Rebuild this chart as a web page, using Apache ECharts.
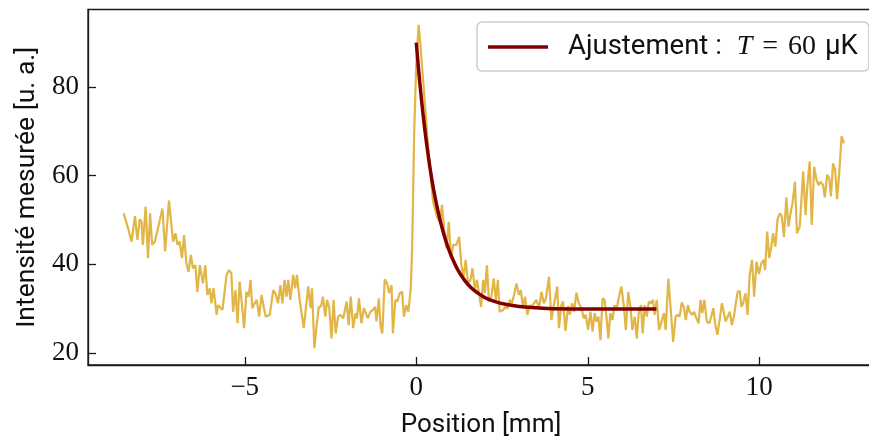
<!DOCTYPE html>
<html>
<head>
<meta charset="utf-8">
<script src="https://cdn.jsdelivr.net/npm/echarts@6/dist/echarts.min.js"></script>
<style>
html,body{margin:0;padding:0;background:#fff;}
#chart{width:869px;height:441px;}
</style>
</head>
<body>
<div id="chart"></div>
<script>
// Measured profile: position [mm]
const positions = [
-8.53,-8.40,-8.30,-8.25,-8.20,-8.13,-8.06,-8.01,-7.97,-7.89,-7.82,-7.76,-7.70,-7.62,-7.57,-7.40,-7.32,-7.21,-7.09,-7.02,
-6.96,-6.90,-6.83,-6.77,-6.70,-6.64,-6.57,-6.51,-6.44,-6.38,-6.31,-6.22,-6.15,-6.09,-6.02,-5.97,-5.91,-5.82,-5.78,-5.65,
-5.53,-5.46,-5.39,-5.34,-5.27,-5.21,-5.15,-5.09,-5.02,-4.95,-4.89,-4.83,-4.78,-4.71,-4.65,-4.58,-4.51,-4.44,-4.39,-4.27,
-4.17,-4.09,-4.03,-3.96,-3.90,-3.84,-3.78,-3.73,-3.67,-3.59,-3.53,-3.48,-3.40,-3.28,-3.15,-3.08,-3.04,-2.97,-2.91,-2.84,
-2.78,-2.72,-2.65,-2.60,-2.54,-2.47,-2.41,-2.35,-2.28,-2.21,-2.13,-2.03,-1.97,-1.91,-1.84,-1.77,-1.73,-1.67,-1.60,-1.53,
-1.47,-1.41,-1.34,-1.26,-1.20,-1.16,-1.09,-1.04,-0.99,-0.92,-0.85,-0.79,-0.72,-0.68,-0.61,-0.55,-0.48,-0.41,-0.36,-0.29,
-0.23,-0.16,-0.12,-0.06,0.00,0.07,0.13,0.20,0.27,0.34,0.41,0.49,0.54,0.62,0.69,0.75,0.81,0.88,0.95,1.01,
1.08,1.17,1.25,1.32,1.38,1.44,1.51,1.58,1.64,1.71,1.77,1.83,1.89,1.95,2.00,2.06,2.12,2.19,2.26,2.32,
2.38,2.43,2.53,2.60,2.66,2.73,2.79,2.85,2.92,2.99,3.05,3.11,3.17,3.24,3.31,3.38,3.43,3.50,3.58,3.65,
3.72,3.78,3.87,3.94,4.02,4.11,4.16,4.23,4.28,4.35,4.43,4.48,4.54,4.60,4.67,4.74,4.82,4.88,4.94,5.01,
5.08,5.14,5.20,5.25,5.31,5.37,5.43,5.49,5.55,5.60,5.66,5.72,5.78,5.84,5.89,5.98,6.05,6.11,6.18,6.25,
6.30,6.37,6.43,6.49,6.55,6.60,6.66,6.72,6.78,6.84,6.90,6.95,7.01,7.08,7.15,7.22,7.27,7.35,7.42,7.49,
7.56,7.62,7.68,7.74,7.80,7.86,7.92,7.97,8.04,8.10,8.17,8.23,8.29,8.34,8.40,8.47,8.54,8.60,8.66,8.72,
8.78,8.85,8.91,8.97,9.02,9.08,9.14,9.20,9.26,9.31,9.37,9.43,9.48,9.53,9.60,9.66,9.72,9.79,9.85,9.92,
9.99,10.06,10.13,10.17,10.23,10.29,10.36,10.40,10.47,10.53,10.60,10.66,10.72,10.79,10.85,10.92,10.97,11.04,11.10,11.18,
11.23,11.28,11.35,11.40,11.47,11.53,11.60,11.67,11.73,11.79,11.86,11.91,11.98,12.04,12.09,12.15,12.21,12.27,12.33,12.40,
12.47
];
// Measured intensity [u. a.]
const intensity = [
51.5,48.1,45.1,45.1,50.9,45.5,50.2,49.6,44.4,53.0,41.4,51.5,44.4,45.1,45.1,52.6,42.9,54.4,45.1,47.0,
44.4,45.1,41.4,46.6,40.2,38.3,42.1,39.1,39.8,33.8,39.8,35.7,39.8,33.1,34.6,31.2,34.6,28.6,30.8,29.7,
37.6,38.7,38.0,29.3,34.2,26.7,36.1,31.6,25.6,33.8,32.7,36.5,30.1,31.2,32.0,28.2,33.1,30.1,28.2,28.6,
34.2,33.1,31.2,35.3,31.2,36.5,32.7,36.5,32.0,37.6,34.6,37.6,32.0,25.6,35.0,30.1,34.6,21.1,25.9,30.4,
30.4,32.7,28.2,32.0,30.4,23.3,32.0,24.4,28.2,28.6,27.8,31.6,26.3,32.7,25.6,29.0,27.8,32.3,26.7,30.1,
29.0,27.8,29.3,29.7,30.4,27.1,32.3,25.9,24.4,36.6,35.7,33.5,35.3,24.4,32.0,31.6,33.5,33.8,28.2,30.8,
29.3,34.6,43.6,69.9,85.0,94.0,88.7,81.5,74.5,67.0,61.0,54.1,53.8,50.4,49.6,53.4,48.1,43.6,49.6,41.4,
44.4,44.4,46.2,39.5,37.2,41.0,35.7,36.5,39.1,34.2,36.5,33.5,30.4,36.5,33.5,39.8,31.6,32.7,36.8,32.0,
36.5,29.3,29.7,30.4,30.0,32.0,31.2,33.1,35.7,33.1,34.2,30.1,32.7,28.6,30.8,30.4,31.2,32.0,30.1,33.8,
31.2,32.3,37.2,27.4,31.2,35.0,25.6,30.8,31.6,25.0,30.6,28.6,31.2,29.3,33.6,31.2,30.1,27.8,28.6,25.2,
29.3,24.8,29.0,27.1,28.2,22.9,32.3,32.0,27.8,23.3,29.0,27.4,30.8,29.7,32.0,35.0,30.8,25.2,33.8,30.1,
25.2,28.2,23.3,29.3,30.8,24.4,30.8,28.2,31.6,31.2,32.0,28.6,32.0,25.2,27.1,29.0,25.2,36.8,29.7,22.5,
28.2,28.6,28.2,31.4,30.4,27.4,30.8,29.3,28.6,29.3,27.8,26.7,32.0,29.0,32.0,27.1,26.7,28.2,30.1,26.3,
24.1,27.8,31.2,29.0,27.1,28.2,29.3,26.3,28.2,30.8,33.8,34.0,30.4,31.2,33.5,28.6,37.5,41.0,32.7,40.6,
37.8,40.2,41.0,38.7,47.4,41.4,44.4,47.0,44.0,50.0,51.5,50.8,46.2,55.1,48.5,51.9,53.8,58.6,47.0,48.5,
48.9,60.9,51.1,57.5,63.2,48.9,62.0,59.0,57.9,58.6,57.9,55.1,60.2,59.4,55.3,62.8,61.3,54.7,60.5,68.9,
67.3
];
// Fit curve
const fitX = [0.0,0.1,0.2,0.3,0.4,0.5,0.6,0.7,0.8,0.9,1.0,1.2,1.4,1.6,1.8,2.0,2.3,2.6,3.0,3.5,4.0,5.0,6.0,7.0];
const fitY = [90.0,81.2,73.7,67.3,61.8,57.1,53.2,49.8,46.9,44.4,42.3,38.9,36.5,34.7,33.5,32.5,31.6,31.0,30.5,30.2,30.0,29.9,29.9,29.9];
const xTicks = [-5, 0, 5, 10];
const yTicks = [20, 40, 60, 80];
const legendLabel = 'Ajustement';

const measured = positions.map((x, i) => [x, intensity[i]]);
const fit = fitX.map((x, i) => [x, fitY[i]]);

const chart = echarts.init(document.getElementById('chart'), null, {renderer: 'canvas'});
const axisColor = '#1a1a1a';
const serif = '"Liberation Serif", "DejaVu Serif", serif';
const sans = 'Roboto, "DejaVu Sans", sans-serif';
chart.setOption({
  animation: false,
  backgroundColor: '#ffffff',
  grid: {left: 88, width: 786, top: 9.5, height: 355.5, outerBoundsMode: 'none', containLabel: false,
    show: true, borderColor: axisColor, borderWidth: 1.3, backgroundColor: 'transparent'},
  legend: {
    data: [{name: legendLabel, icon: 'rect'}],
    left: 477, top: 22,
    itemWidth: 60, itemHeight: 3.5, itemGap: 0,
    padding: [11, 11, 10, 11],
    borderColor: '#cccccc', borderWidth: 1.5, borderRadius: 5,
    backgroundColor: 'rgba(255,255,255,0.8)',
    formatter: () => '{s|Ajustement : }{i|T}{m|=}{n|60}{u|μK}',
    textStyle: {
      padding: [0, 0, 0, 15],
      rich: {
        s: {fontFamily: sans, fontSize: 27.5, color: '#111'},
        i: {fontFamily: serif, fontStyle: 'italic', fontSize: 28, color: '#111', padding: [0, 0, 0, 8]},
        m: {fontFamily: serif, fontSize: 28, color: '#111', padding: [0, 0, 0, 10]},
        n: {fontFamily: serif, fontSize: 28, color: '#111', padding: [0, 0, 0, 10]},
        u: {fontFamily: sans, fontSize: 27.5, color: '#111', padding: [0, 0, 0, 9]}
      }
    }
  },
  xAxis: {
    type: 'value', min: -9.57, max: 13.345,
    name: 'Position [mm]', nameLocation: 'middle', nameGap: 47,
    nameTextStyle: {fontFamily: sans, fontSize: 26, color: '#111'},
    axisLine: {show: true, onZero: false, lineStyle: {color: axisColor, width: 1.3}},
    axisTick: {show: true, inside: true, length: 8, customValues: xTicks, lineStyle: {color: axisColor, width: 1.3}},
    axisLabel: {customValues: xTicks, fontFamily: serif, fontSize: 27, color: '#111', margin: 9,
      formatter: v => (v < 0 ? '\u2212' + Math.abs(v) : String(v))},
    splitLine: {show: false}
  },
  yAxis: {
    type: 'value', min: 17.29, max: 97.48,
    name: 'Intensité mesurée [u. a.]', nameLocation: 'middle', nameGap: 47,
    nameTextStyle: {fontFamily: sans, fontSize: 26.5, color: '#111'},
    axisLine: {show: true, onZero: false, lineStyle: {color: axisColor, width: 1.3}},
    axisTick: {show: true, inside: true, length: 8, customValues: yTicks, lineStyle: {color: axisColor, width: 1.3}},
    axisLabel: {customValues: yTicks, fontFamily: serif, fontSize: 27, color: '#111', margin: 9},
    splitLine: {show: false}
  },
  series: [
    {
      name: 'Mesure', type: 'line', data: measured, showSymbol: false, symbol: 'none',
      lineStyle: {color: '#E2B547', width: 2.2}, itemStyle: {color: '#E2B547'}, z: 2
    },
    {
      name: legendLabel, type: 'line', data: fit, showSymbol: false, symbol: 'none', smooth: 0.4,
      lineStyle: {color: '#800000', width: 3.5}, itemStyle: {color: '#800000'}, z: 3
    }
  ]
});
</script>
</body>
</html>
